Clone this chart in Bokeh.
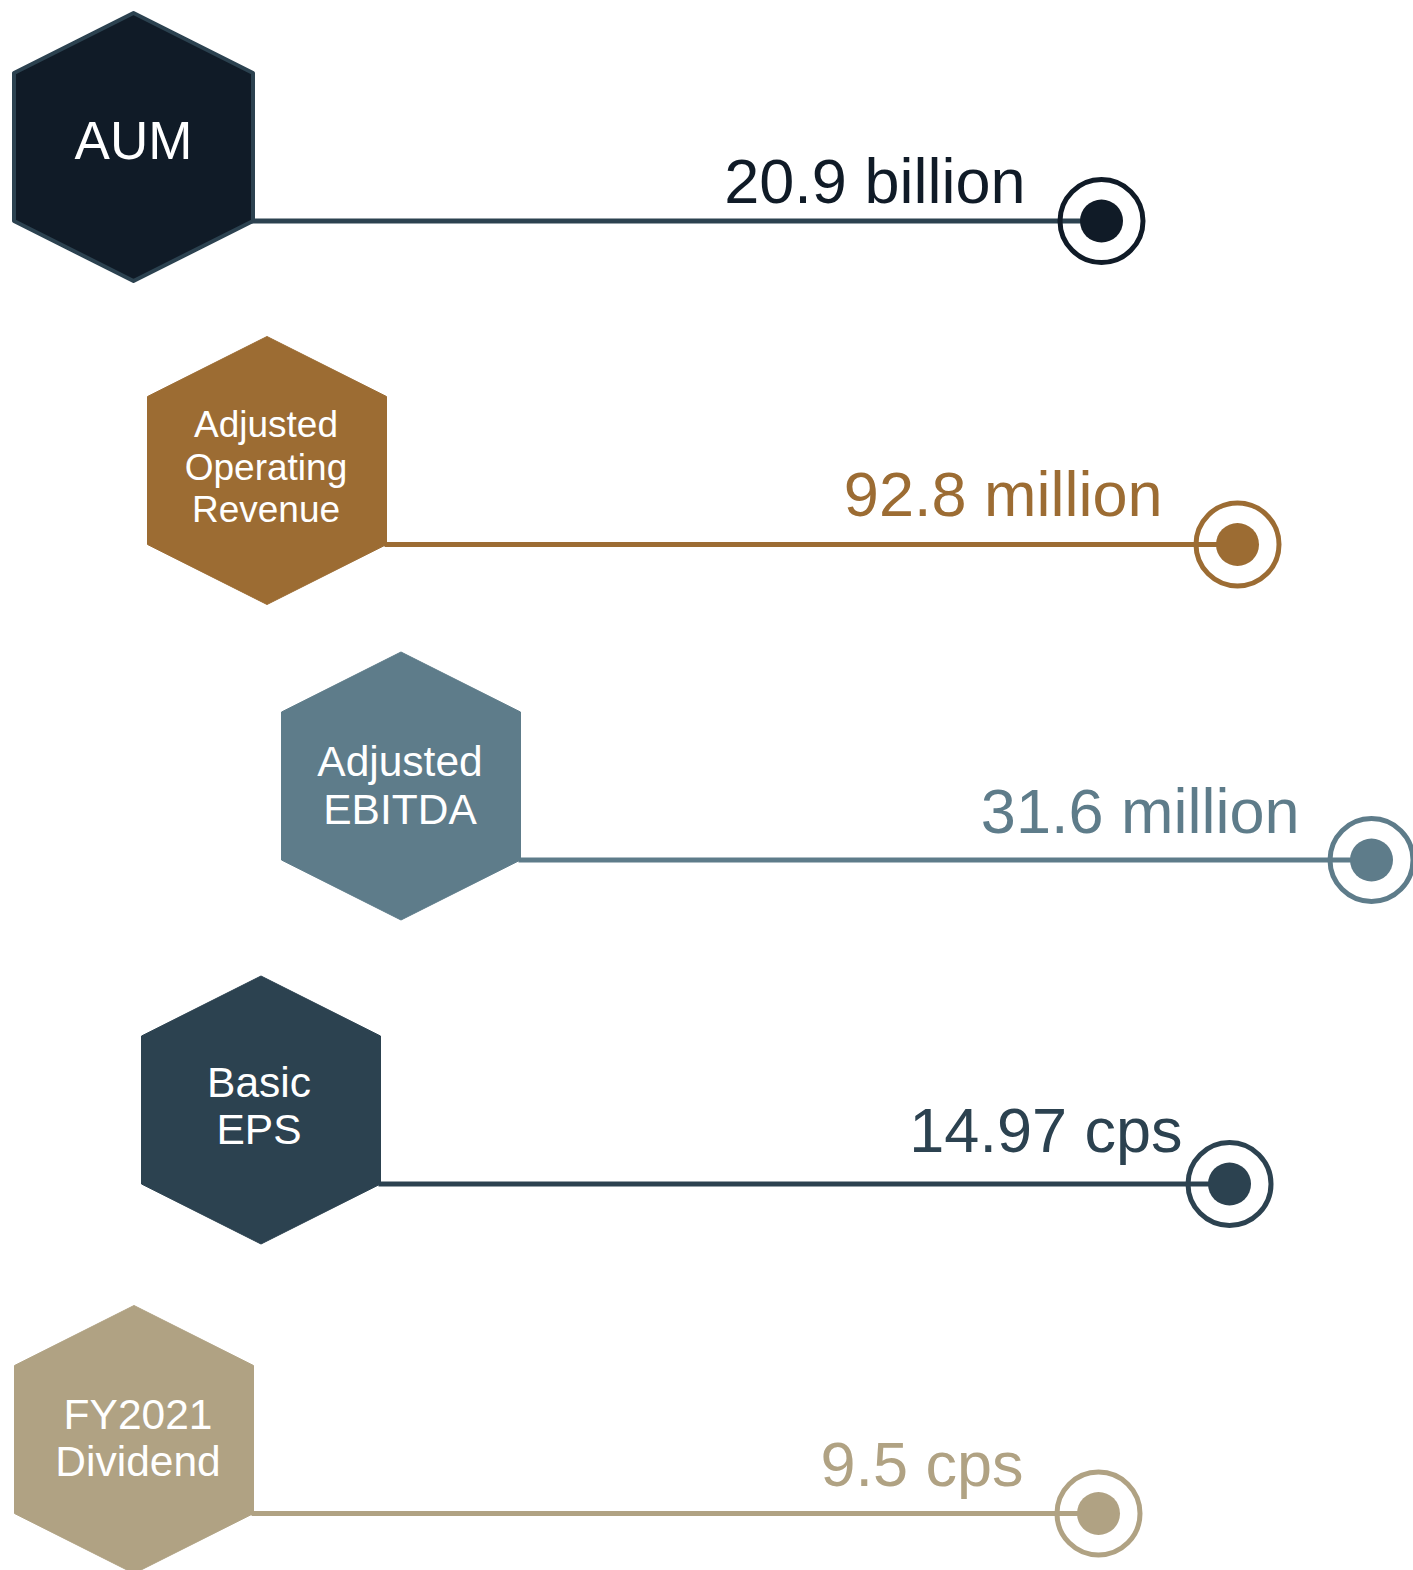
from bokeh.plotting import figure
from bokeh.models import Range1d
from bokeh.core.properties import value
from bokeh.embed import file_html
from bokeh.resources import INLINE

# ---- data ----
labels = [["AUM"], ["Adjusted", "Operating", "Revenue"], ["Adjusted", "EBITDA"],
          ["Basic", "EPS"], ["FY2021", "Dividend"]]
values = ["20.9 billion", "92.8 million", "31.6 million", "14.97 cps", "9.5 cps"]
fill_colors = ["#101b27", "#9c6c33", "#5e7c8a", "#2c4250", "#b0a283"]
line_colors = ["#2c4250", "#9c6c33", "#5e7c8a", "#2c4250", "#b0a283"]
dot_colors = ["#101b27", "#9c6c33", "#5e7c8a", "#2c4250", "#b0a283"]
text_colors = ["#101b27", "#9c6c33", "#5e7c8a", "#2c4250", "#b0a283"]

# ---- layout (page pixels) ----
hex_cx = [133, 266.5, 400.5, 260.5, 133.5]
hex_cy = [146.5, 470, 785.5, 1109.5, 1439]
end_x = [1101, 1237, 1371, 1229, 1098]
label_fs = [53, 37, 42.5, 42.5, 42.5]
label_ls = [0, 42.5, 48, 47, 47]
label_dy = [13.5, -32, -9, -11.5, -9]
label_dx = [0, -1, -1, -2, 4]
val_dx = [-76, -75, -72, -47, -75]
val_dy = [-16, -27, -25, -30, -26]
HW, HH, HS = 119.5, 134, 74
BASE_FIX = 0.375  # svg text baseline correction, fraction of font size

W, H = 1413, 1570
p = figure(width=W, height=H, x_range=Range1d(0, W), y_range=Range1d(H, 0),
           output_backend="svg", toolbar_location=None, min_border=0)
p.axis.visible = False
p.grid.visible = False
p.outline_line_color = None
p.background_fill_color = "white"
p.border_fill_color = "white"

for i in range(len(values)):
    cx, cy = hex_cx[i], hex_cy[i]
    ly = cy + HS
    # connector line
    p.line([cx + HW - 2, end_x[i]], [ly, ly], line_color=line_colors[i], line_width=5)
    # hexagon
    xs = [cx, cx + HW, cx + HW, cx, cx - HW, cx - HW]
    ys = [cy - HH, cy - HS, cy + HS, cy + HH, cy + HS, cy - HS]
    if i == 0:
        p.patch(xs, ys, fill_color=fill_colors[i], line_color="#2c4250", line_width=4,
                line_join="round")
    else:
        p.patch(xs, ys, fill_color=fill_colors[i], line_color=fill_colors[i], line_width=1,
                line_join="round")
    # label lines
    fs = label_fs[i]
    for j, t in enumerate(labels[i]):
        p.text([cx + label_dx[i]], [cy + label_dy[i] + j * label_ls[i] - BASE_FIX * fs],
               text=[t], text_font=value("Liberation Sans"), text_font_size=f"{fs}px",
               text_color="white", text_align="center", text_baseline="alphabetic")
    # ring + dot
    p.scatter([end_x[i]], [ly], marker="circle", size=83, fill_color=None,
              line_color=dot_colors[i], line_width=5)
    p.scatter([end_x[i]], [ly], marker="circle", size=43, fill_color=dot_colors[i],
              line_color=None)
    # value text
    p.text([end_x[i] + val_dx[i]], [ly + val_dy[i] - BASE_FIX * 63], text=[values[i]],
           text_font=value("Liberation Sans"), text_font_size="63px",
           text_color=text_colors[i], text_align="right", text_baseline="alphabetic")

open("out.html", "w").write(file_html(p, INLINE))
